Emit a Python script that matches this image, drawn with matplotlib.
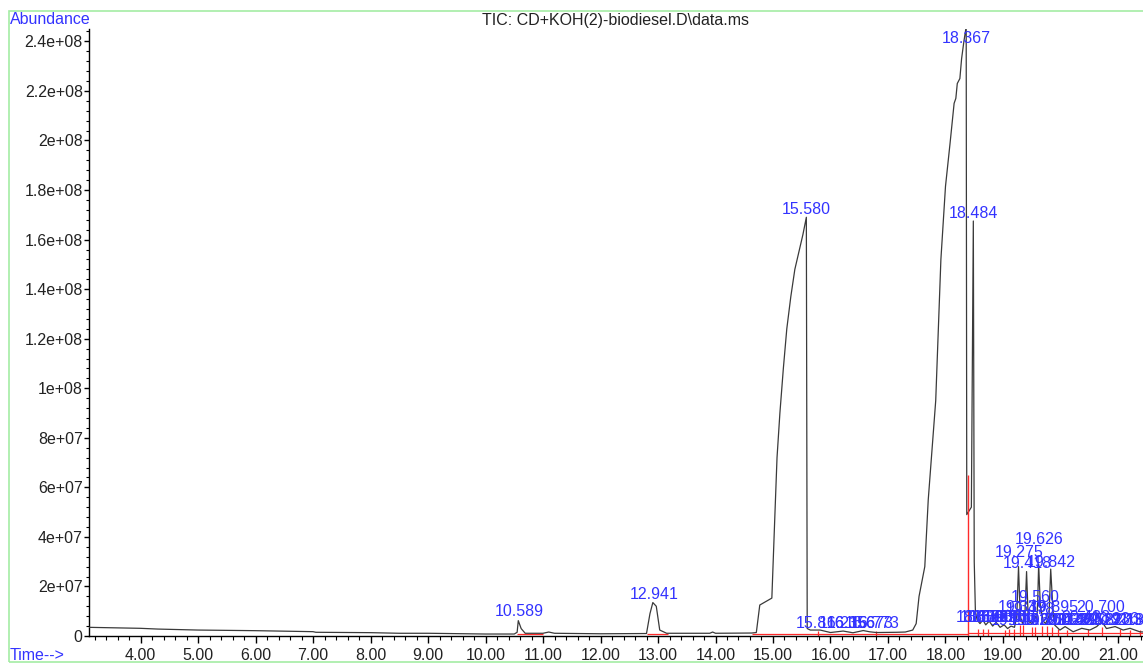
import matplotlib
matplotlib.use("Agg")
import matplotlib.pyplot as plt
from matplotlib.patches import Rectangle
from matplotlib.ticker import MultipleLocator, FuncFormatter

plt.rcParams['font.family'] = ['Liberation Sans', 'DejaVu Sans']

# TIC trace (minutes, abundance)
time = [3.10, 4.00, 4.30, 5.00, 6.00, 7.00, 7.05, 8.00, 8.50, 9.00, 10.00, 10.50,
        10.55, 10.57, 10.62, 10.69, 11.00, 11.10, 11.20, 12.00, 12.80,
        12.86, 12.91, 12.97, 13.03, 13.15, 13.90, 13.95, 14.00, 14.63, 14.71,
        14.77, 14.98, 15.03, 15.07, 15.12, 15.18, 15.24, 15.31, 15.38, 15.46,
        15.52, 15.58, 15.595, 15.65,
        15.82, 16.00, 16.22, 16.39, 16.57, 16.68, 16.80, 17.15, 17.30,
        17.43, 17.49, 17.54, 17.59, 17.64, 17.70, 17.83, 17.92, 18.00,
        18.08, 18.15, 18.18, 18.205, 18.25, 18.28, 18.32, 18.36, 18.37,
        18.45, 18.484, 18.50, 18.52, 18.55, 18.60, 18.65, 18.70, 18.76,
        18.82, 18.88, 18.95, 19.02, 19.08, 19.14, 19.20, 19.24, 19.27,
        19.30, 19.34, 19.38, 19.41, 19.44, 19.50, 19.53, 19.56, 19.59,
        19.605, 19.62, 19.65, 19.70, 19.74, 19.80, 19.83, 19.87, 19.90,
        19.99, 20.08, 20.22, 20.37, 20.51, 20.63, 20.72, 20.80, 20.95,
        21.09, 21.21, 21.38, 21.45]
abundance = [3.5e6, 3.1e6, 2.8e6, 2.4e6, 2.15e6, 1.75e6, 1.5e6, 1.35e6, 1.1e6, 1.1e6, 0.8e6, 0.8e6,
             1.5e6, 6.2e6, 3.0e6, 1.1e6, 1.1e6, 1.6e6, 1.1e6, 0.9e6, 1.0e6,
             9.0e6, 1.35e7, 1.2e7, 2.4e6, 1.1e6, 1.1e6, 1.6e6, 1.1e6, 1.2e6, 1.4e6,
             1.25e7, 1.53e7, 4.7e7, 7.2e7, 9.0e7, 1.08e8, 1.24e8, 1.37e8, 1.48e8, 1.56e8,
             1.62e8, 1.69e8, 3.0e6, 2.4e6,
             2.4e6, 1.4e6, 2.0e6, 1.3e6, 2.2e6, 1.7e6, 1.4e6, 1.5e6, 1.6e6,
             2.4e6, 5.0e6, 1.6e7, 2.2e7, 2.8e7, 5.5e7, 9.5e7, 1.52e8, 1.815e8,
             1.99e8, 2.15e8, 2.17e8, 2.23e8, 2.25e8, 2.33e8, 2.40e8, 2.46e8, 4.9e7,
             5.2e7, 1.675e8, 3.0e7, 1.0e7, 6.5e6, 5.0e6, 6.5e6, 4.5e6, 6.0e6,
             4.0e6, 5.5e6, 3.5e6, 4.5e6, 3.0e6, 4.0e6, 3.5e6, 8.0e6, 2.8e7,
             8.0e6, 5.0e6, 8.0e6, 2.6e7, 6.0e6, 5.0e6, 6.0e6, 8.0e6, 7.0e6,
             1.5e7, 2.9e7, 1.2e7, 6.0e6, 5.0e6, 8.0e6, 2.7e7, 1.0e7, 4.4e6,
             2.4e6, 3.8e6, 1.7e6, 3.1e6, 2.4e6, 3.8e6, 5.8e6, 3.0e6, 3.8e6,
             2.4e6, 3.1e6, 1.7e6, 1.6e6]

# integration baselines (start, end, level) and peak split marks (time, height)
base_start = [10.54, 12.80, 14.63, 18.40]
base_end = [11.00, 13.18, 18.40, 21.45]
base_level = [0.9e6, 0.7e6, 1.0e6, 1.2e6]
split_time = [15.78, 16.80, 18.57, 18.66, 18.74, 19.03, 19.11, 19.20, 19.30, 19.34,
              19.50, 19.56, 19.67, 19.76, 19.85, 19.96, 20.11, 20.48, 20.72,
              21.04, 21.21, 21.38]
split_height = [2.0e6, 2.0e6, 3.0e6, 3.0e6, 3.0e6, 2.5e6, 3.0e6, 3.0e6, 4.4e6, 4.4e6,
                3.5e6, 3.5e6, 4.0e6, 4.0e6, 3.5e6, 3.0e6, 2.5e6, 3.0e6, 3.5e6,
                3.0e6, 2.5e6, 2.5e6]
big_split_time = 18.395
big_split_height = 6.5e7

# retention time labels and the height of their baseline
label_time = [10.589, 12.941, 15.580, 18.367, 18.484, 19.275, 19.418, 19.626, 19.842,
              19.560, 15.816, 16.215, 16.356, 16.673, 16.773,
              19.339, 19.478, 19.895, 20.700,
              18.609, 18.672, 18.763, 18.835, 18.906, 18.990, 19.068, 19.155,
              19.214, 19.522, 19.691, 19.760,
              20.052, 20.148, 20.229, 20.325, 20.438, 20.627, 20.822, 20.936,
              21.184, 21.309, 21.416]
label_y = [8.1e6, 1.49e7, 1.705e8, 2.395e8, 1.688e8, 3.19e7, 2.75e7, 3.72e7, 2.79e7,
           1.37e7, 3.2e6, 3.2e6, 3.2e6, 3.2e6, 3.2e6,
           9.8e6, 9.0e6, 9.8e6, 9.8e6,
           5.8e6, 5.8e6, 5.8e6, 5.8e6, 5.8e6, 5.8e6, 5.8e6, 5.8e6,
           4.6e6, 4.6e6, 4.6e6, 4.6e6,
           4.4e6, 4.4e6, 4.4e6, 4.4e6, 5.8e6, 4.4e6, 4.4e6, 5.0e6,
           4.4e6, 4.4e6, 4.4e6]

blue = '#3333ff'
fs = 11.5
W, H = 1143, 664
fig = plt.figure(figsize=(W / 100, H / 100), dpi=100)
fig.add_artist(Rectangle((9 / W, 2 / H), 1.2, 651 / H, transform=fig.transFigure,
                         fill=False, edgecolor='#a4eca4', linewidth=1.2))

ax = fig.add_axes([89 / W, 28 / H, (W - 89) / W, 607 / H])
ax.plot(time, abundance, color='#3a3a3a', lw=0.9, zorder=3)
ax.hlines(base_level, base_start, base_end, color='#ff2a2a', lw=0.9, zorder=2)
ax.vlines(split_time, 0, split_height, color='#ff2a2a', lw=0.9, zorder=2)
ax.vlines(big_split_time, 0, big_split_height, color='#ff2a2a', lw=1.0, zorder=4)

for t, y in zip(label_time, label_y):
    ax.text(t, y, f'{t:.3f}', color=blue, fontsize=fs, ha='center',
            va='baseline', zorder=5, clip_on=True)

ax.set_xlim(3.104, 21.435)
ax.set_ylim(0, 2.45e8)
for s in ['top', 'right']:
    ax.spines[s].set_visible(False)
ax.spines['left'].set_linewidth(1.0)
ax.spines['bottom'].set_linewidth(1.0)

ax.xaxis.set_major_locator(MultipleLocator(1))
ax.xaxis.set_minor_locator(MultipleLocator(0.2))
ax.xaxis.set_major_formatter(FuncFormatter(lambda v, _: f'{v:.2f}'))
ax.yaxis.set_major_locator(MultipleLocator(2e7))
ax.yaxis.set_minor_locator(MultipleLocator(4e6))
ax.yaxis.set_major_formatter(FuncFormatter(lambda v, _: '0' if v == 0 else f'{v:g}'))

ax.tick_params(axis='x', which='major', length=5, width=1, labelsize=fs, pad=4,
               labelcolor='#222222')
ax.tick_params(axis='x', which='minor', length=3, width=0.8)
ax.tick_params(axis='y', which='major', length=3.5, width=1, labelsize=fs, pad=1,
               labelcolor='#222222')
ax.tick_params(axis='y', which='minor', length=2, width=0.8)

fig.text(10 / W, 1 - 20 / H, 'Abundance', color=blue, fontsize=fs, ha='left', va='center')
fig.text(616 / W, 1 - 20 / H, 'TIC: CD+KOH(2)-biodiesel.D\\data.ms', color='#222222',
         fontsize=fs, ha='center', va='center')
fig.text(10 / W, 1 - 655 / H, 'Time-->', color=blue, fontsize=fs, ha='left', va='center')

fig.savefig('out.png', dpi=100)
